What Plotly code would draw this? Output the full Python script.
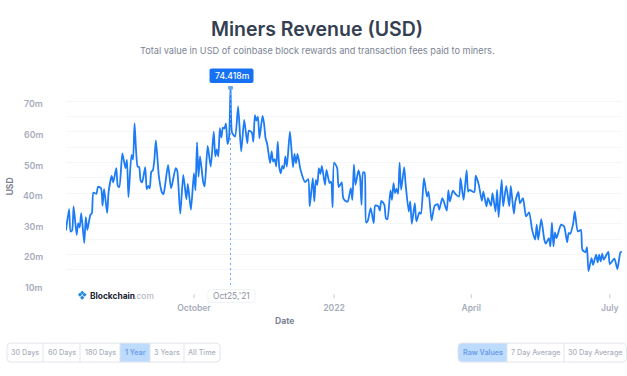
import plotly.graph_objects as go
import pandas as pd

START_DATE = "2021-07-09"
day_index = [0,2,3,4,5,7,8,9,10,12,13,14,16,17,18,20,21,23,24,25,27,28,30,31,33,34,35,37,39,40,41,43,44,45,47,48,49,50,52,53,54,55,56,57,58,59,61,63,64,65,67,69,72,73,75,77,79,80,82,84,85,86,87,88,90,91,93,95,97,98,99,100,101,102,103,104,105,106,107,108,109,111,113,115,117,119,120,122,123,124,125,126,127,129,130,131,132,134,135,136,137,138,139,140,141,142,143,144,145,147,149,150,151,152,154,157,159,160,162,163,164,165,166,167,168,170,171,173,174,175,176,178,179,181,182,184,185,187,188,189,190,192,193,194,195,196,197,198,200,202,203,205,206,207,209,210,211,213,214,215,216,217,218,219,220,222,223,225,226,227,229,230,232,233,235,237,238,240,242,244,245,247,248,250,251,252,254,256,258,259,261,263,264,265,268,269,271,273,274,276,277,279,280,282,283,284,286,287,289,291,292,294,295,297,298,300,302,304,306,308,309,310,312,314,315,317,318,319,320,321,322,325,327,329,330,331,333,334,336,338,339,341,342,343,345,346,348,349,350,351,352,353,356,357,360,362,364,365]
revenue_m = [27.8,34.8,27.5,27.8,35.7,26.4,30.2,28.8,33.5,23.7,32.2,28,32.9,33.5,40.2,39.8,42.1,41.6,35.9,41.4,33.5,40.5,45.6,43.5,48.2,42.4,42,53,48.2,50.9,38.7,52.5,51,62.8,48.7,48.5,44.1,43.5,48.5,41.3,42.4,41.6,47,47.4,50.9,57.2,45.4,40.2,39.7,42.4,49.2,41.6,48.2,47.4,33.3,46,38,43,34.6,46.5,40.9,56.6,45.4,52,43.8,42.2,55.4,48.7,60.1,52,54.3,52,61.2,58.2,61.4,61.1,62.8,56.1,57.9,74.418,59.8,58.5,68.3,53.6,63.9,56.3,60.4,59.8,56.8,65.5,63.7,65,57.9,65.2,62.8,57.9,56.3,49.8,53.6,50.3,51.1,48.7,56.8,48.5,46.5,48.9,48,52,48.7,60.1,48.5,52.8,49.8,52.8,47.6,43.6,44.6,35.7,44.9,37.3,44.3,42.7,48.2,46.3,48.9,42.7,47.6,43.3,43.8,35.4,50,48.2,42,43.5,38.4,37.3,37.3,41.6,37.8,49.3,42.7,47.4,45.4,36.2,46.7,46.7,30.4,30.8,35.1,30.2,36,35.7,34.3,37.5,36.2,31.8,31.5,40.9,37.8,43.3,40,41.4,39.8,50,41.1,48.5,42.7,34,37.3,30,36.7,30.8,33.7,33.3,44.9,38.9,40.5,31.1,35.9,36.4,34.6,38.4,37.3,34.3,40.9,37.3,40.8,39.5,38.9,44.9,37.8,47.4,40.5,41.1,40.3,45.7,42.7,37.5,40.5,35.7,38.4,35.9,40,34,41.1,32.2,44.3,35.7,42.4,35.7,42.4,33.3,37.3,40.4,36.7,38.4,32.4,33.7,28,24.8,29.7,24.8,31.5,24.8,23.5,25.3,22.6,30.4,22.6,27.2,25.3,29.7,29.1,24,27,26.7,30.2,34,27.5,28,21.5,20.7,22.4,14.5,18.8,16.6,19.9,17.4,19.9,17.7,20.2,18.3,20.8,16.8,18.6,15.2,20.7,20.7]
y_grid_m = [10,15,20,25,30,35,40,45,50,55,60,65,70,75]
y_label_m = [10,20,30,40,50,60,70]
x_tick_dates = ["2021-10-01","2022-01-01","2022-04-01","2022-07-01"]
x_tick_labels = ["October","2022","April","July"]
PEAK_DATE = "2021-10-25"
PEAK_VALUE = 74.418
range_buttons = ["30 Days","60 Days","180 Days","1 Year","3 Years","All Time"]
avg_buttons = ["Raw Values","7 Day Average","30 Day Average"]

dates = pd.to_datetime(START_DATE) + pd.to_timedelta(day_index, unit="D")

W, H = 627, 376
L, R, T, B = 66, 622, 86, 285.3
FONT = "Inter, Noto Sans, sans-serif"

def xp(x): return (x - L) / (R - L)
def yp(y): return (B - y) / (B - T)

def rrect(x0, y0, x1, y1, r=3, rl=True, rr=True):
    rl = r if rl else 0
    rr = r if rr else 0
    pts = [f"M{xp(x0+rl)},{yp(y0)}", f"L{xp(x1-rr)},{yp(y0)}",
           f"Q{xp(x1)},{yp(y0)} {xp(x1)},{yp(y0+rr)}", f"L{xp(x1)},{yp(y1-rr)}",
           f"Q{xp(x1)},{yp(y1)} {xp(x1-rr)},{yp(y1)}", f"L{xp(x0+rl)},{yp(y1)}",
           f"Q{xp(x0)},{yp(y1)} {xp(x0)},{yp(y1-rl)}", f"L{xp(x0)},{yp(y0+rl)}",
           f"Q{xp(x0)},{yp(y0)} {xp(x0+rl)},{yp(y0)}", "Z"]
    return " ".join(pts)

shapes, ann = [], []

def label(text, x, y, size, color, weight=400, **kw):
    ann.append(dict(text=text, x=xp(x), y=yp(y), xref="paper", yref="paper", showarrow=False,
                    xanchor=kw.get("xanchor", "center"), yanchor="middle", textangle=kw.get("angle", 0),
                    font=dict(family=FONT, size=size, color=color, weight=weight)))

def shape(path, fill="rgba(0,0,0,0)", line="rgba(0,0,0,0)", width=1):
    shapes.append(dict(type="path", path=path, xref="paper", yref="paper",
                       fillcolor=fill, line=dict(color=line, width=width), layer="above"))

# y labels sit slightly below their gridlines in the reference
for v in y_label_m:
    ann.append(dict(text=f"{v}m", x=xp(44.5), y=v, xref="paper", yref="y", yshift=-2.5, showarrow=False,
                    xanchor="right", yanchor="middle",
                    font=dict(family=FONT, size=8.8, color="#a6acbb", weight=600)))
label("USD", 9.5, 186, 8.5, "#7b8494", 700, angle=-90)

# x tick marks sit detached below the axis
for d in x_tick_dates:
    shapes.append(dict(type="line", x0=d, x1=d, y0=yp(294.5), y1=yp(298.5), xref="x", yref="paper",
                       line=dict(color="#c5cad6", width=1)))

# crosshair
shapes.append(dict(type="line", x0=PEAK_DATE, x1=PEAK_DATE, y0=10, y1=PEAK_VALUE, xref="x", yref="y",
                   line=dict(color="#6ba6f7", width=1, dash="2px,3px"), layer="above"))

# peak badge
shape(rrect(209.5, 68.5, 253.5, 83, 2), fill="#1672f3")
label("74.418m", 231.5, 76, 8.6, "#ffffff", 500)

# date badge
shape(rrect(208, 290, 255, 303, 2), fill="#ffffff", line="#f0f1f4")
label("Oct25,'21", 231.5, 296.5, 8.4, "#8a90a0", 400)

# logo
for cx, cy, s in [(80, 295, 2.1), (84.5, 295, 2.1), (82.2, 292.9, 1.9), (82.2, 298, 2.1)]:
    shape(f"M{xp(cx-s)},{yp(cy)} L{xp(cx)},{yp(cy-s)} L{xp(cx+s)},{yp(cy)} L{xp(cx)},{yp(cy+s)} Z", fill="#1d87dc")
label("Blockchain", 88, 296.5, 8.4, "#1b2230", 700, xanchor="left")
label(".com", 132, 296.5, 8.4, "#b4bac6", 500, xanchor="left")

# button groups
def buttons(names, edges, y0, y1, active):
    for i in range(len(names)):
        if i == active:
            shape(rrect(edges[i], y0, edges[i + 1], y1, 4, rl=i == 0, rr=False), fill="#bddbfd")
    shape(rrect(edges[0], y0, edges[-1], y1, 4), line="#e2e5ec")
    for i, name in enumerate(names):
        if i > 0:
            shapes.append(dict(type="line", x0=xp(edges[i]), x1=xp(edges[i]), y0=yp(y0), y1=yp(y1),
                               xref="paper", yref="paper", line=dict(color="#e2e5ec", width=1), layer="above"))
        on = i == active
        label(name, (edges[i] + edges[i + 1]) / 2, (y0 + y1) / 2, 7.2,
              "#6b9bea" if on else "#abb1c0", 600 if on else 500)

buttons(range_buttons, [7, 43, 80, 120, 150, 184, 220], 343.5, 362.5, 3)
buttons(avg_buttons, [458, 507, 564, 626.5], 343.5, 362.5, 0)

# subtitle
label("Total value in USD of coinbase block rewards and transaction fees paid to miners.", 317, 50.5, 9.2, "#7b8494")
# x axis name sits left of the plot centre
label("Date", 284, 321, 8.6, "#7b8494", 700)

fig = go.Figure()
fig.add_trace(go.Scatter(x=dates, y=revenue_m, mode="lines", hoverinfo="skip",
                         line=dict(color="#1d7bf5", width=1.8, shape="spline", smoothing=0.6)))
fig.add_trace(go.Scatter(x=[PEAK_DATE], y=[PEAK_VALUE], mode="markers", hoverinfo="skip",
                         marker=dict(color="#6ba6f7", size=5)))

fig.update_layout(
    width=W, height=H, showlegend=False, plot_bgcolor="#ffffff", paper_bgcolor="#ffffff",
    margin=dict(l=L, r=W - R, t=T, b=H - B, pad=0),
    title=dict(text="Miners Revenue (USD)", x=317 / W, y=1 - 29 / H, xanchor="center", yanchor="middle",
               font=dict(family=FONT, size=19.5, color="#353f52", weight=600)),
    xaxis=dict(range=[START_DATE, "2022-07-09"], tickmode="array", tickvals=x_tick_dates, ticktext=x_tick_labels,
               showgrid=False, zeroline=False, showline=False, ticks="", ticklabelstandoff=16,
               tickfont=dict(family=FONT, size=8.6, color="#a6acbb", weight=600)),
    yaxis=dict(range=[10, 75], tickmode="array", tickvals=y_grid_m, showticklabels=False,
               showgrid=True, gridcolor="#f5f6f8", gridwidth=1, zeroline=False, showline=False, ticks=""),
    shapes=shapes, annotations=ann,
)

fig.write_html("out.html", config=dict(displayModeBar=False), post_script="document.body.style.margin='0';")
